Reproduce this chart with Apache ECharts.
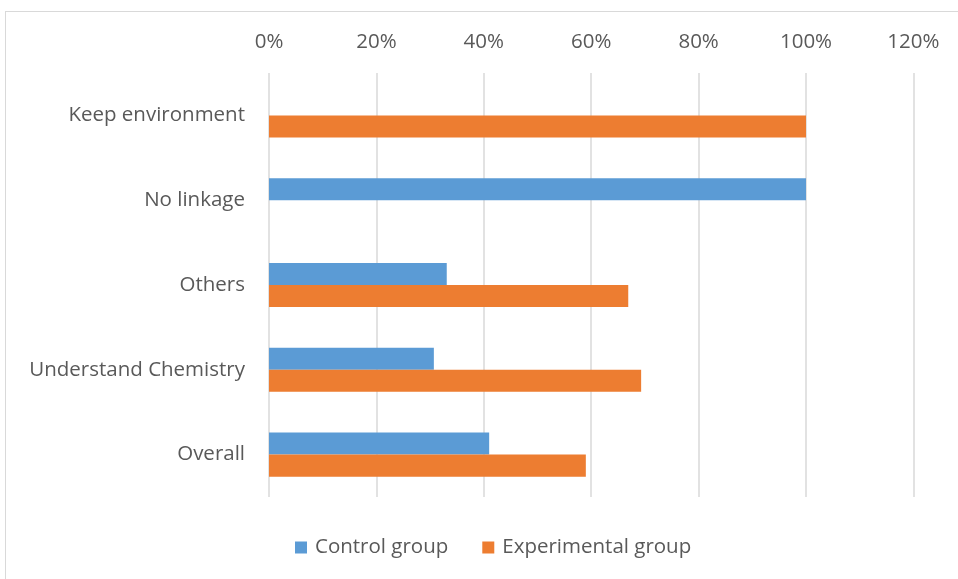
<!DOCTYPE html>
<html>
<head>
<meta charset="utf-8">
<script src="https://cdn.jsdelivr.net/npm/echarts@6/dist/echarts.min.js"></script>
<style>
html,body{margin:0;padding:0;background:#fff;}
#frame{position:absolute;left:5px;top:11px;width:1000px;height:600px;border:1px solid #d9d9d9;box-sizing:border-box;}
#chart{position:absolute;left:0;top:0;width:958px;height:579px;}
</style>
</head>
<body>
<div id="frame"></div>
<div id="chart"></div>
<script>
const categories = ["Overall", "Understand Chemistry", "Others", "No linkage", "Keep environment"];
const controlGroup = [0.41, 0.307, 0.331, 1.0, 0];
const experimentalGroup = [0.59, 0.693, 0.669, 0, 1.0];
const seriesNames = ["Control group", "Experimental group"];

const FONT = "Open Sans";
const FS = 20.5;
const chart = echarts.init(document.getElementById('chart'), null, {renderer: 'canvas'});
chart.setOption({
  animation: false,
  textStyle: {fontFamily: FONT},
  grid: {left: 269, right: 958 - 913.4, top: 73, bottom: 579 - 497, containLabel: false},
  legend: {
    data: seriesNames,
    bottom: 16,
    left: 290,
    itemWidth: 12,
    itemHeight: 12,
    itemGap: 34,
    icon: 'rect',
    textStyle: {fontFamily: FONT, fontSize: FS, color: '#595959', padding: [0, 0, 0, 3]}
  },
  xAxis: {
    type: 'value',
    position: 'top',
    min: 0,
    max: 1.2,
    interval: 0.2,
    axisLine: {show: false},
    axisTick: {show: false},
    axisLabel: {
      margin: 20,
      fontFamily: FONT, fontSize: FS, color: '#595959',
      formatter: v => Math.round(v * 100) + '%'
    },
    splitLine: {show: true, lineStyle: {color: '#d9d9d9', width: 1.5}}
  },
  yAxis: {
    type: 'category',
    data: categories,
    axisLine: {show: false},
    axisTick: {show: false},
    axisLabel: {margin: 24, fontFamily: FONT, fontSize: FS, color: '#595959'},
    splitLine: {show: false}
  },
  series: [
    {
      name: seriesNames[0], type: 'bar', data: controlGroup,
      barGap: '0%', barCategoryGap: '48%',
      itemStyle: {color: '#5B9BD5'}
    },
    {
      name: seriesNames[1], type: 'bar', data: experimentalGroup,
      barGap: '0%', barCategoryGap: '48%',
      itemStyle: {color: '#ED7D31'}
    }
  ]
});
</script>
</body>
</html>
